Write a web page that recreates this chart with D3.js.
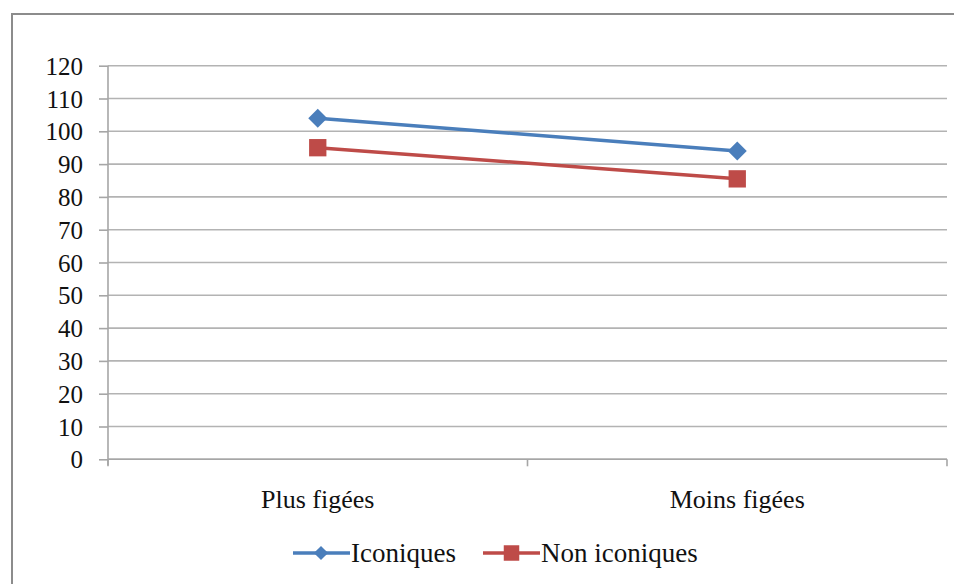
<!DOCTYPE html>
<html>
<head>
<meta charset="utf-8">
<script src="https://cdn.jsdelivr.net/npm/d3@7"></script>
<style>
  html, body { margin: 0; padding: 0; background: #fff; }
  svg { display: block; }
  text { font-family: "Liberation Serif", "Times New Roman", serif; fill: #111; }
</style>
</head>
<body>
<svg id="chart" width="954" height="584"></svg>
<script>
const categories = ["Plus figées", "Moins figées"];
const seriesNames = ["Iconiques", "Non iconiques"];
const iconiques = [104, 94];
const nonIconiques = [95, 85.5];
const yTicks = [0, 10, 20, 30, 40, 50, 60, 70, 80, 90, 100, 110, 120];
const colors = ["#4a7ebb", "#be4b48"];

const svg = d3.select("#chart");
const margin = { left: 108, right: 947, top: 65.7, bottom: 459.3 };

// outer chart frame
svg.append("rect")
  .attr("x", 12).attr("y", 14)
  .attr("width", 1000).attr("height", 700)
  .attr("fill", "none").attr("stroke", "#8c8c8c").attr("stroke-width", 2);

const x = d3.scaleBand().domain(categories).range([margin.left, margin.right]).padding(0);
const y = d3.scaleLinear().domain([0, 120]).range([margin.bottom, margin.top]);

// gridlines
svg.append("g").selectAll("line").data(yTicks).join("line")
  .attr("x1", margin.left).attr("x2", margin.right)
  .attr("y1", d => y(d)).attr("y2", d => y(d))
  .attr("stroke", "#b3b3b3").attr("stroke-width", 1.6);

// y axis
const yAxis = svg.append("g")
  .attr("transform", `translate(${margin.left},0)`)
  .call(d3.axisLeft(y).tickValues(yTicks).tickSize(9).tickPadding(16));
yAxis.select(".domain").attr("stroke", "#a6a6a6").attr("stroke-width", 1.6)
  .attr("d", `M0,${margin.top}V${margin.bottom + 6}`);
yAxis.selectAll(".tick line").attr("stroke", "#a6a6a6").attr("stroke-width", 1.6);
yAxis.selectAll(".tick text")
  .style("font-family", "'Liberation Serif', serif").style("font-size", "25px")
  .attr("fill", "#111").attr("dy", "0.34em");

// x axis
const xAxis = svg.append("g")
  .attr("transform", `translate(0,${margin.bottom})`)
  .call(d3.axisBottom(x).tickSize(0).tickPadding(30));
xAxis.select(".domain").attr("stroke", "#a6a6a6").attr("stroke-width", 1.6)
  .attr("d", `M${margin.left},0H${margin.right}`);
xAxis.selectAll(".tick text")
  .style("font-family", "'Liberation Serif', serif").style("font-size", "26px")
  .attr("fill", "#111");
// category boundary ticks
const bounds = [x.range()[0], ...categories.map(c => x(c) + x.bandwidth())];
xAxis.append("g").selectAll("line").data(bounds).join("line")
  .attr("x1", d => d).attr("x2", d => d).attr("y1", 0).attr("y2", 7)
  .attr("stroke", "#a6a6a6").attr("stroke-width", 1.6);

const cx = c => x(c) + x.bandwidth() / 2;
const line = d3.line().x((d, i) => cx(categories[i])).y(d => y(d));
const seriesData = [iconiques, nonIconiques];
const symSizes = [180, 300];

seriesData.forEach((vals, s) => {
  svg.append("path").datum(vals)
    .attr("d", line).attr("fill", "none")
    .attr("stroke", colors[s]).attr("stroke-width", 3.5).attr("stroke-linecap", "round");
  svg.append("g").selectAll("path").data(vals).join("path")
    .attr("transform", (d, i) => s === 0
      ? `translate(${cx(categories[i])},${y(d)}) rotate(45)`
      : `translate(${cx(categories[i])},${y(d)})`)
    .attr("d", d3.symbol().type(d3.symbolSquare).size(symSizes[s]))
    .attr("fill", colors[s]);
});

// legend
const legendItems = [
  { name: seriesNames[0], x0: 293, color: colors[0], s: 0 },
  { name: seriesNames[1], x0: 483, color: colors[1], s: 1 }
];
const ly = 553;
const lg = svg.append("g");
legendItems.forEach(it => {
  lg.append("line").attr("x1", it.x0).attr("x2", it.x0 + 57)
    .attr("y1", ly).attr("y2", ly).attr("stroke", it.color).attr("stroke-width", 3.5);
  lg.append("path")
    .attr("transform", it.s === 0 ? `translate(${it.x0 + 28},${ly}) rotate(45)` : `translate(${it.x0 + 28.5},${ly})`)
    .attr("d", d3.symbol().type(d3.symbolSquare).size(it.s === 0 ? 100 : 240))
    .attr("fill", it.color);
  lg.append("text").attr("x", it.x0 + 58).attr("y", ly).attr("dy", "0.34em")
    .style("font-size", "27px").text(it.name);
});
</script>
</body>
</html>
